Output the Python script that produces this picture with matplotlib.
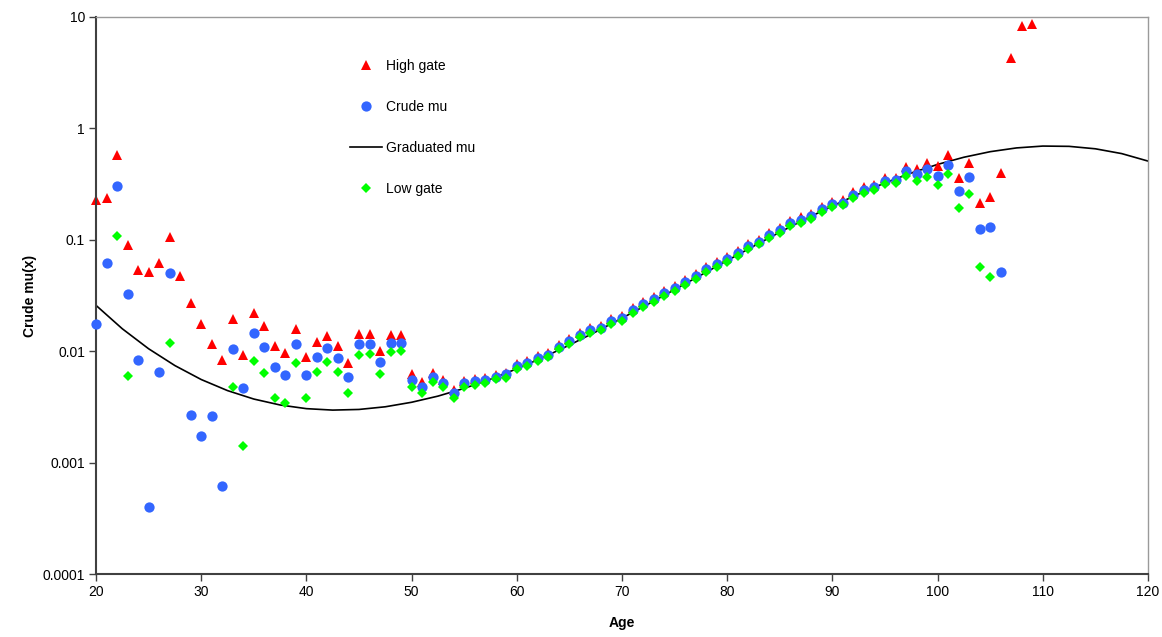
import numpy as np
import matplotlib
matplotlib.use("Agg")
import matplotlib.pyplot as plt
from matplotlib.lines import Line2D
from matplotlib.ticker import FixedLocator, NullLocator

plt.rcParams['font.family'] = ['Liberation Sans', 'DejaVu Sans']

# High gate (upper bound), ages 20..109
high_ages = list(range(20, 110))
high_gate = [0.229, 0.235, 0.582, 0.089, 0.054, 0.051, 0.0618, 0.1056, 0.0476, 0.0273,
             0.0177, 0.01157, 0.0083, 0.0195, 0.0092, 0.0218, 0.0168, 0.0112, 0.00966, 0.0157,
             0.0089, 0.012, 0.0136, 0.0112, 0.00776, 0.0142, 0.0142, 0.0100, 0.0140, 0.0140,
             0.0063, 0.0053, 0.0064, 0.0055, 0.00448, 0.00542, 0.00565, 0.0057, 0.0061, 0.0064,
             0.0076, 0.0081, 0.0090, 0.0097, 0.0114, 0.0128, 0.0147, 0.0161, 0.0170, 0.0194,
             0.0205, 0.0244, 0.0274, 0.0306, 0.0345, 0.0386, 0.0436, 0.0494, 0.0566, 0.0627,
             0.0695, 0.0787, 0.0917, 0.1004, 0.1154, 0.128, 0.149, 0.159, 0.170, 0.197,
             0.219, 0.227, 0.266, 0.295, 0.310, 0.357, 0.362, 0.446, 0.434, 0.489,
             0.456, 0.575, 0.358, 0.494, 0.214, 0.244, 0.395, 4.27, 8.3, 8.65]

# Crude mu, ages 20..106 (none plotted at 28)
crude_ages = [a for a in range(20, 107) if a != 28]
crude_mu = [0.0176, 0.0618, 0.303, 0.0326, 0.0084, 0.0004, 0.0065, 0.0504, 0.0027,
            0.00173, 0.00262, 0.00062, 0.0104, 0.00463, 0.0146, 0.0109, 0.00723, 0.0061, 0.01156,
            0.00613, 0.00896, 0.0107, 0.0087, 0.00589, 0.0115, 0.0115, 0.0080, 0.0119, 0.0119,
            0.00557, 0.0048, 0.00589, 0.00513, 0.00423, 0.00513, 0.00538, 0.0055, 0.0059, 0.0062,
            0.0073, 0.0078, 0.0087, 0.0093, 0.0110, 0.0123, 0.0141, 0.0155, 0.0163, 0.0187,
            0.0197, 0.0235, 0.0263, 0.0294, 0.0332, 0.0371, 0.0419, 0.0475, 0.0544, 0.0603,
            0.0668, 0.0757, 0.0882, 0.0965, 0.111, 0.122, 0.142, 0.151, 0.162, 0.188,
            0.209, 0.216, 0.253, 0.281, 0.295, 0.340, 0.345, 0.416, 0.393, 0.431,
            0.375, 0.469, 0.274, 0.370, 0.124, 0.130, 0.0514]

# Low gate (lower bound), only where positive
low_ages = [22, 23, 27] + list(range(33, 106))
low_gate = [0.109, 0.00593, 0.0118,
            0.00473, 0.00141, 0.0082, 0.0064, 0.00382, 0.0034, 0.00786,
            0.00379, 0.00645, 0.00797, 0.00648, 0.00418, 0.00915, 0.0094, 0.0063, 0.0099, 0.0101,
            0.00479, 0.00418, 0.0053, 0.00473, 0.00384, 0.00479, 0.0050, 0.00513, 0.0056, 0.0058,
            0.00686, 0.0073, 0.0082, 0.0088, 0.0104, 0.0116, 0.0133, 0.0146, 0.0154, 0.0176,
            0.0186, 0.0222, 0.0248, 0.0277, 0.0313, 0.0350, 0.0395, 0.0448, 0.0513, 0.0569,
            0.0630, 0.0714, 0.0832, 0.0910, 0.1044, 0.115, 0.134, 0.1425, 0.1525, 0.1774,
            0.197, 0.204, 0.239, 0.265, 0.278, 0.319, 0.326, 0.371, 0.336, 0.368,
            0.308, 0.387, 0.193, 0.259, 0.0568, 0.046]

# Graduated mu (smooth curve)
grad_ages = [20, 22.5, 25, 27.5, 30, 32.5, 35, 37.5, 40, 42.5, 45, 47.5, 50, 52.5, 55,
             57.5, 60, 62.5, 65, 67.5, 70, 72.5, 75, 77.5, 80, 82.5, 85, 87.5, 90, 92.5,
             95, 97.5, 100, 102.5, 105, 107.5, 110, 112.5, 115, 117.5, 120]
grad_mu = [0.0258, 0.0159, 0.01052, 0.00743, 0.00557, 0.00443, 0.00372, 0.00329, 0.00305,
           0.00296, 0.0030, 0.00317, 0.00348, 0.00395, 0.00464, 0.0056, 0.00695, 0.00879,
           0.01135, 0.0149, 0.0198, 0.0265, 0.0357, 0.0482, 0.0651, 0.0875, 0.117, 0.1545,
           0.201, 0.258, 0.324, 0.398, 0.475, 0.551, 0.618, 0.668, 0.694, 0.690, 0.656,
           0.594, 0.509]

y_ticks = [0.0001, 0.001, 0.01, 0.1, 1, 10]
y_tick_labels = ["0.0001", "0.001", "0.01", "0.1", "1", "10"]
x_ticks = list(range(20, 121, 10))

RED = "#FF0000"
BLUE = "#3366FF"
GREEN = "#00FF00"

fig = plt.figure(figsize=(11.62, 6.37), dpi=100)
ax = fig.add_axes([96 / 1162, 1 - 574 / 637, (1148 - 96) / 1162, (574 - 17) / 637])

ax.plot(grad_ages, grad_mu, color="black", linewidth=1.2, zorder=1)
ax.plot(high_ages, high_gate, linestyle="none", marker="^", markersize=7.5,
        color=RED, markeredgewidth=0, zorder=2, clip_on=False)
ax.plot(crude_ages, crude_mu, linestyle="none", marker="o", markersize=7.4,
        color=BLUE, markeredgewidth=0, zorder=3, clip_on=False)
ax.plot(low_ages, low_gate, linestyle="none", marker="D", markersize=4.8,
        color=GREEN, markeredgewidth=0, zorder=4, clip_on=False)

ax.set_yscale("log")
ax.set_xlim(20, 120)
ax.set_ylim(0.0001, 10)
ax.yaxis.set_major_locator(FixedLocator(y_ticks))
ax.yaxis.set_minor_locator(NullLocator())
ax.set_yticklabels(y_tick_labels)
ax.set_xticks(x_ticks)

ax.tick_params(axis="both", which="major", direction="out", length=5, width=1,
               color="#404040", labelsize=10, labelcolor="black", pad=3)

for side in ("left", "bottom"):
    ax.spines[side].set_color("#404040")
    ax.spines[side].set_linewidth(1.5)
for side in ("top", "right"):
    ax.spines[side].set_color("#9a9a9a")
    ax.spines[side].set_linewidth(1.0)

ax.set_xlabel("Age", fontsize=10, fontweight="bold", labelpad=12)
ax.set_ylabel("Crude mu(x)", fontsize=10, fontweight="bold", labelpad=4)

handles = [
    Line2D([], [], linestyle="none", marker="^", markersize=7.5, color=RED, markeredgewidth=0),
    Line2D([], [], linestyle="none", marker="o", markersize=7.4, color=BLUE, markeredgewidth=0),
    Line2D([], [], color="black", linewidth=1.2),
    Line2D([], [], linestyle="none", marker="D", markersize=4.8, color=GREEN, markeredgewidth=0),
]
labels = ["High gate", "Crude mu", "Graduated mu", "Low gate"]
ax.legend(handles, labels, loc="upper left", bbox_to_anchor=(350 / 1162, 1 - 59 / 637),
          bbox_transform=fig.transFigure, frameon=False, borderaxespad=0, borderpad=0,
          labelspacing=1.95, handlelength=2.3, handletextpad=0.3, fontsize=10, numpoints=1)

fig.savefig("out.png", dpi=100)
